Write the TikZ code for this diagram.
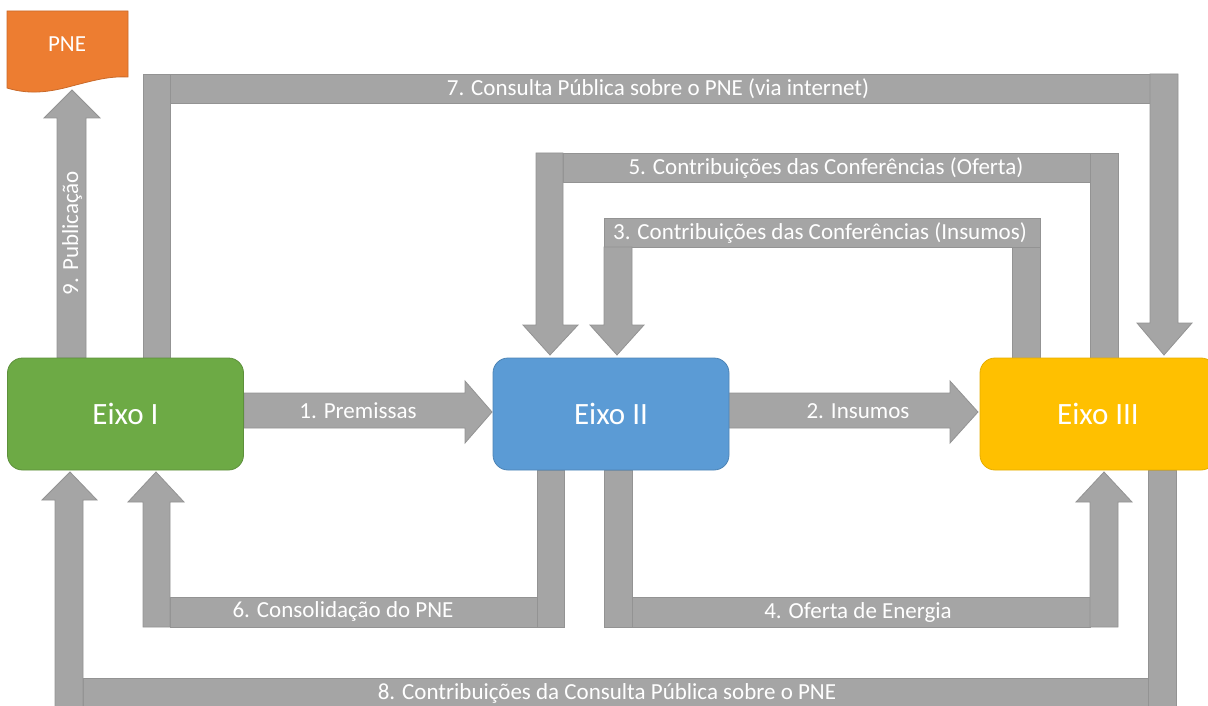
\documentclass[tikz,border=0pt]{standalone}
\usepackage{fontspec}
\setmainfont{Carlito}
\definecolor{eixogreen}{HTML}{6DAA45}
\definecolor{eixoblue}{HTML}{5B9BD5}
\definecolor{eixogold}{HTML}{FFC000}
\definecolor{pneorange}{HTML}{ED7D31}
\definecolor{agray}{HTML}{A5A5A5}
\definecolor{agrayline}{HTML}{939393}
\tikzset{
  seg/.style={fill=agray, draw=agrayline, line width=0.8pt},
  lbl/.style={text=white, inner sep=0pt, font=\fontsize{23}{23}\selectfont},
  eixobox/.style={rounded corners=15pt, minimum width=236pt, minimum height=112pt,
    text=white, font=\fontsize{31}{31}\selectfont, line width=0.8pt},
}
\begin{document}
\begin{tikzpicture}[x=1pt,y=-1pt]
\useasboundingbox (0,0) rectangle (1208,706);
\clip (0,0) rectangle (1208,706);

% 9. Publicacao
\draw[seg] (57,358)--(57,118)--(44,118)--(72,90)--(100,118)--(86,118)--(86,358)--cycle;
% 7. Consulta publica
\draw[seg] (143,74) rectangle (170,358);
\draw[seg] (170,74) rectangle (1150,103);
\draw[seg] (1150,74)--(1178,74)--(1178,323)--(1192,323)--(1164,355)--(1137,323)--(1150,323)--cycle;
% 5. Contribuicoes (Oferta)
\draw[seg] (1090,153) rectangle (1118,358);
\draw[seg] (563,153) rectangle (1090,182);
\draw[seg] (536,153)--(563,153)--(563,325)--(578,325)--(550,355)--(523,325)--(536,325)--cycle;
% 3. Contribuicoes (Insumos)
\draw[seg] (604,218) rectangle (1040,247);
\draw[seg] (1012,247) rectangle (1040,358);
\draw[seg] (604,247)--(632,247)--(632,325)--(644,325)--(617,355)--(590,325)--(604,325)--cycle;
% 1. Premissas
\draw[seg] (244,393)--(465,393)--(465,381)--(492,412)--(465,443)--(465,428)--(244,428)--cycle;
% 2. Insumos
\draw[seg] (728,393)--(950,393)--(950,381)--(978,412)--(950,443)--(950,428)--(728,428)--cycle;
% 6. Consolidacao
\draw[seg] (537,470) rectangle (564,627);
\draw[seg] (170,597) rectangle (537,627);
\draw[seg] (143,627)--(143,502)--(128,502)--(156,472)--(184,502)--(170,502)--(170,627)--cycle;
% 4. Oferta de Energia
\draw[seg] (604,470) rectangle (632,627);
\draw[seg] (632,597) rectangle (1090,627);
\draw[seg] (1090,627)--(1090,502)--(1076,502)--(1104,472)--(1132,502)--(1118,502)--(1118,627)--cycle;
% 8. Contribuicoes da consulta publica
\draw[seg] (83,678) rectangle (1148,712);
\draw[seg] (1148,470) rectangle (1176,712);
\draw[seg] (55,712)--(55,500)--(42,500)--(70,472)--(97,500)--(83,500)--(83,712)--cycle;

% PNE document
\draw[fill=pneorange, draw=pneorange!85!black, line width=0.8pt]
  (7,11) -- (128,11) -- (128,77) .. controls (110,76) and (95,80) .. (72,86)
  .. controls (50,92) and (30,95) .. (7,88) -- cycle;
\node[lbl] (pne) at (67,44) {PNE};

% Eixo boxes
\node[eixobox, fill=eixogreen, draw=eixogreen!85!black] (e1) at (125.5,414) {Eixo I};
\node[eixobox, fill=eixoblue, draw=eixoblue!85!black] (e2) at (611,414) {Eixo II};
\node[eixobox, fill=eixogold, draw=eixogold!90!black] (e3) at (1098,414) {Eixo III};

% labels
\node[lbl] (l1) at (358,411) {1. Premissas};
\node[lbl] (l2) at (858,411) {2. Insumos};
\node[lbl] (l3) at (820,233) {3. Contribuições das Conferências (Insumos)};
\node[lbl] (l4) at (858,612) {4. Oferta de Energia};
\node[lbl] (l5) at (826,168) {5. Contribuições das Conferências (Oferta)};
\node[lbl] (l6) at (343,611) {6. Consolidação do PNE};
\node[lbl] (l7) at (658,89) {7. Consulta Pública sobre o PNE (via internet)};
\node[lbl] (l8) at (607,693) {8. Contribuições da Consulta Pública sobre o PNE};
\node[lbl, rotate=90] (l9) at (72,233) {9. Publicação};
\end{tikzpicture}
\end{document}
